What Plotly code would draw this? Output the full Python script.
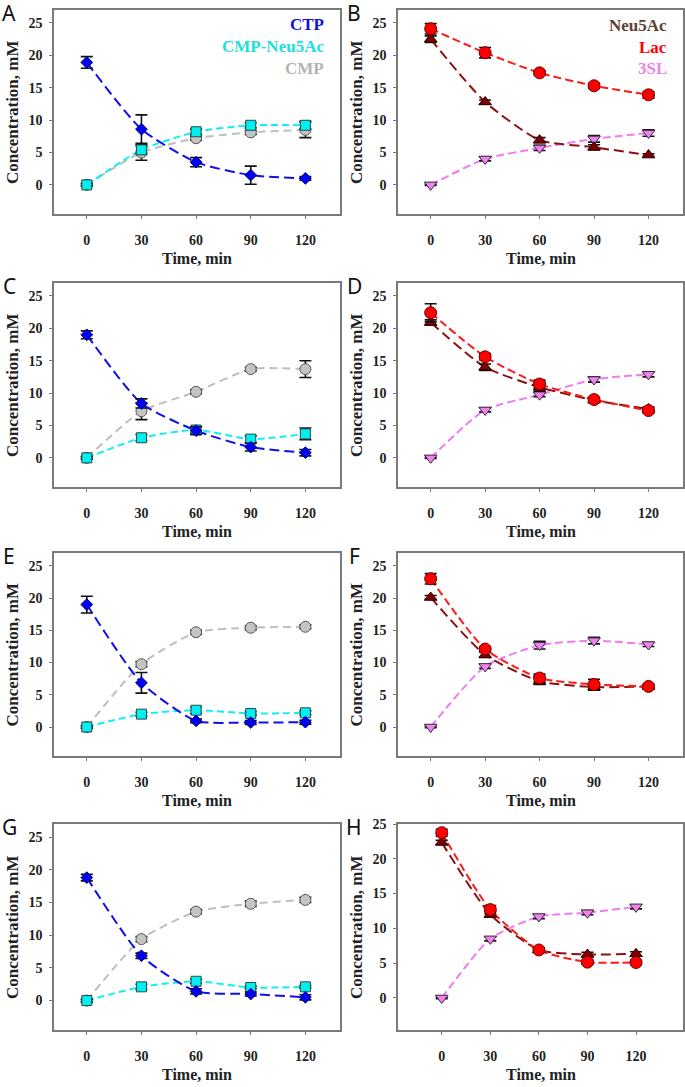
import plotly.graph_objects as go

# ---------------- data ----------------
time = [0, 30, 60, 90, 120]
x_ticks = [0, 30, 60, 90, 120]
y_ticks = [0, 5, 10, 15, 20, 25]
panel_letters = ["A", "B", "C", "D", "E", "F", "G", "H"]

# Panel A
A_ctp = [18.9, 8.6, 3.5, 1.5, 1.0]
A_ctp_err = [0.9, 2.2, 0.7, 1.4, 0.3]
A_cmpneu = [0.0, 5.4, 8.2, 9.2, 9.2]
A_cmpneu_err = [0.2, 0.6, 0.4, 0.4, 0.6]
A_cmp = [0.0, 5.0, 7.2, 8.1, 8.5]
A_cmp_err = [0.2, 1.2, 0.3, 0.3, 1.2]
# Panel B
B_neu = [22.5, 12.8, 6.9, 5.8, 4.6]
B_neu_err = [0.5, 0.3, 0.4, 0.4, 0.2]
B_lac = [24.1, 20.4, 17.3, 15.3, 13.9]
B_lac_err = [0.8, 0.8, 0.3, 0.4, 0.5]
B_3sl = [0.0, 4.0, 5.7, 7.1, 8.0]
B_3sl_err = [0.1, 0.3, 0.4, 0.5, 0.5]
# Panel C
C_ctp = [19.0, 8.4, 4.2, 1.65, 0.8]
C_ctp_err = [0.6, 0.7, 0.6, 0.6, 0.5]
C_cmpneu = [0.0, 3.1, 4.3, 2.9, 3.7]
C_cmpneu_err = [0.2, 0.5, 0.5, 0.5, 0.9]
C_cmp = [0.0, 7.2, 10.2, 13.7, 13.7]
C_cmp_err = [0.2, 1.3, 0.3, 0.3, 1.3]
# Panel D
D_neu = [20.9, 14.0, 10.9, 8.9, 7.55]
D_neu_err = [0.4, 0.5, 0.6, 0.3, 0.3]
D_lac = [22.4, 15.6, 11.4, 9.0, 7.3]
D_lac_err = [1.4, 0.5, 0.6, 0.3, 0.4]
D_3sl = [0.0, 7.4, 9.75, 12.1, 12.9]
D_3sl_err = [0.1, 0.3, 0.3, 0.4, 0.4]
# Panel E
E_ctp = [19.0, 6.85, 0.95, 0.7, 0.75]
E_ctp_err = [1.3, 1.6, 0.3, 0.3, 0.3]
E_cmpneu = [0.0, 2.0, 2.6, 2.1, 2.2]
E_cmpneu_err = [0.2, 0.3, 0.5, 0.3, 0.3]
E_cmp = [0.0, 9.75, 14.7, 15.4, 15.55]
E_cmp_err = [0.2, 0.4, 0.3, 0.3, 0.3]
# Panel F
F_neu = [20.1, 11.2, 7.1, 6.2, 6.3]
F_neu_err = [0.3, 0.4, 0.5, 0.5, 0.3]
F_lac = [23.0, 12.1, 7.6, 6.6, 6.3]
F_lac_err = [0.8, 0.4, 0.6, 0.8, 0.3]
F_3sl = [0.0, 9.4, 12.7, 13.4, 12.8]
F_3sl_err = [0.1, 0.3, 0.6, 0.5, 0.3]
# Panel G
G_ctp = [18.8, 6.85, 1.4, 1.0, 0.5]
G_ctp_err = [0.5, 0.4, 0.4, 0.3, 0.4]
G_cmpneu = [0.0, 2.1, 2.95, 2.0, 2.1]
G_cmpneu_err = [0.2, 0.4, 0.3, 0.2, 0.2]
G_cmp = [0.0, 9.4, 13.6, 14.8, 15.4]
G_cmp_err = [0.2, 0.4, 0.3, 0.4, 0.4]
# Panel H
H_neu = [22.35, 12.0, 6.9, 6.25, 6.35]
H_neu_err = [0.3, 0.4, 0.3, 0.3, 0.3]
H_lac = [23.75, 12.7, 6.9, 5.15, 5.1]
H_lac_err = [0.5, 0.6, 0.3, 0.3, 0.3]
H_3sl = [0.0, 8.5, 11.7, 12.25, 13.1]
H_3sl_err = [0.1, 0.3, 0.3, 0.3, 0.3]

legend_left = ["CTP", "CMP-Neu5Ac", "CMP"]
legend_right = ["Neu5Ac", "Lac", "3SL"]

# ---------------- styles ----------------
W, H = 685, 1087
SERIF = "Liberation Serif, Times New Roman, serif"

sty = {
    "CMP": dict(symbol="circle", fill="#C4C4C4", edge="#555555", line="#BEBEBE", dash="8px,5px", text="#B4B4B4", size=11),
    "CMP-Neu5Ac": dict(symbol="square", fill="#00F0F0", edge="#2A4A4A", line="#10F0F0", dash="7px,4px", text="#20DEDE", size=10),
    "CTP": dict(symbol="diamond", fill="#0000F5", edge="#000070", line="#1010E8", dash="10px,5px", text="#1010E0", size=9),
    "3SL": dict(symbol="triangle-down", fill="#EE82EE", edge="#3A2A3A", line="#F07CF0", dash="8px,4px", text="#EE82EE", size=11),
    "Neu5Ac": dict(symbol="triangle-up", fill="#800000", edge="#300000", line="#8B1010", dash="10px,5px", text="#5E3F33", size=11),
    "Lac": dict(symbol="circle", fill="#FF0000", edge="#700000", line="#FF1A1A", dash="8px,4px", text="#FF0000", size=12),
}

panels = [
    [("CMP", A_cmp, A_cmp_err), ("CMP-Neu5Ac", A_cmpneu, A_cmpneu_err), ("CTP", A_ctp, A_ctp_err)],
    [("3SL", B_3sl, B_3sl_err), ("Neu5Ac", B_neu, B_neu_err), ("Lac", B_lac, B_lac_err)],
    [("CMP", C_cmp, C_cmp_err), ("CMP-Neu5Ac", C_cmpneu, C_cmpneu_err), ("CTP", C_ctp, C_ctp_err)],
    [("3SL", D_3sl, D_3sl_err), ("Neu5Ac", D_neu, D_neu_err), ("Lac", D_lac, D_lac_err)],
    [("CMP", E_cmp, E_cmp_err), ("CMP-Neu5Ac", E_cmpneu, E_cmpneu_err), ("CTP", E_ctp, E_ctp_err)],
    [("3SL", F_3sl, F_3sl_err), ("Neu5Ac", F_neu, F_neu_err), ("Lac", F_lac, F_lac_err)],
    [("CMP", G_cmp, G_cmp_err), ("CMP-Neu5Ac", G_cmpneu, G_cmpneu_err), ("CTP", G_ctp, G_ctp_err)],
    [("3SL", H_3sl, H_3sl_err), ("Neu5Ac", H_neu, H_neu_err), ("Lac", H_lac, H_lac_err)],
]

cols_px = [(54, 340), (398, 683)]
rows_px = [(10, 214), (283, 487), (553, 756), (824, 1030)]

fig = go.Figure()
annotations = []

for i, series in enumerate(panels):
    r, c = divmod(i, 2)
    x0, x1 = cols_px[c]
    y0, y1 = rows_px[r]
    xa = "x" if i == 0 else f"x{i+1}"
    ya = "y" if i == 0 else f"y{i+1}"
    xkey = "xaxis" if i == 0 else f"xaxis{i+1}"
    ykey = "yaxis" if i == 0 else f"yaxis{i+1}"
    is_h = (i == 7)
    xr = [-27, 149] if is_h else [-18, 139]
    yr = [-4.6, 25] if is_h else [-4.5, 27]

    common = dict(showline=True, mirror=True, linecolor="#7A7A7A", linewidth=1.5,
                  showgrid=False, zeroline=False, ticks="outside", ticklen=3,
                  tickcolor="#7A7A7A", tickwidth=1,
                  tickfont=dict(family=SERIF, size=14, color="#222222", weight="bold"),
                  automargin=False, fixedrange=True)
    fig.layout[xkey] = dict(common, domain=[x0 / W, x1 / W], range=xr, tickvals=x_ticks,
                            anchor=ya, ticklabelstandoff=9)
    fig.layout[ykey] = dict(common, domain=[1 - y1 / H, 1 - y0 / H], range=yr, tickvals=y_ticks,
                            anchor=xa, ticklabelstandoff=4)

    for name, vals, errs in series:
        s = sty[name]
        fig.add_trace(go.Scatter(
            x=time, y=vals, xaxis=xa, yaxis=ya, mode="lines",
            line=dict(color=s["line"], width=2, dash=s["dash"], shape="spline", smoothing=0.6),
            showlegend=False, hoverinfo="skip"))
    for name, vals, errs in series:
        s = sty[name]
        fig.add_trace(go.Scatter(
            x=time, y=vals, xaxis=xa, yaxis=ya, mode="markers", name=name,
            marker=dict(symbol=s["symbol"], size=s["size"], color=s["fill"],
                        line=dict(color=s["edge"], width=1)),
            error_y=dict(type="data", array=errs, visible=True, color="#111111",
                         thickness=1.6, width=6),
            showlegend=False))

    # axis titles
    annotations.append(dict(text="<b>Concentration, mM</b>", xref="paper", yref="paper",
                            x=(x0 - 42) / W, y=1 - (y0 + y1) / 2 / H, textangle=-90,
                            showarrow=False, xanchor="center", yanchor="middle",
                            font=dict(family=SERIF, size=17, color="#222222")))
    annotations.append(dict(text="<b>Time, min</b>", xref="paper", yref="paper",
                            x=(x0 + x1) / 2 / W, y=1 - (y1 + 44) / H,
                            showarrow=False, xanchor="center", yanchor="middle",
                            font=dict(family=SERIF, size=16, color="#222222")))
    # panel letter
    lx = 9 if c == 0 else 354
    annotations.append(dict(text=panel_letters[i], xref="paper", yref="paper",
                            x=lx / W, y=1 - (y0 + 3) / H, showarrow=False,
                            xanchor="center", yanchor="middle",
                            font=dict(family="Noto Sans, Open Sans, sans-serif", size=21, color="#111111")))

# legends as text
for k, name in enumerate(legend_left):
    annotations.append(dict(text=f"<b>{name}</b>", xref="paper", yref="paper",
                            x=326 / W, y=1 - (25 + 21.5 * k) / H, showarrow=False,
                            xanchor="right", yanchor="middle",
                            font=dict(family=SERIF, size=17, color=sty[name]["text"])))
for k, name in enumerate(legend_right):
    annotations.append(dict(text=f"<b>{name}</b>", xref="paper", yref="paper",
                            x=669 / W, y=1 - (26 + 21.5 * k) / H, showarrow=False,
                            xanchor="right", yanchor="middle",
                            font=dict(family=SERIF, size=17, color=sty[name]["text"])))

fig.update_layout(width=W, height=H, margin=dict(l=0, r=0, t=0, b=0),
                  paper_bgcolor="white", plot_bgcolor="white",
                  annotations=annotations, showlegend=False)

fig.write_html("out.html", config={"displayModeBar": False},
               post_script="document.body.style.margin='0';document.body.style.padding='0';")
